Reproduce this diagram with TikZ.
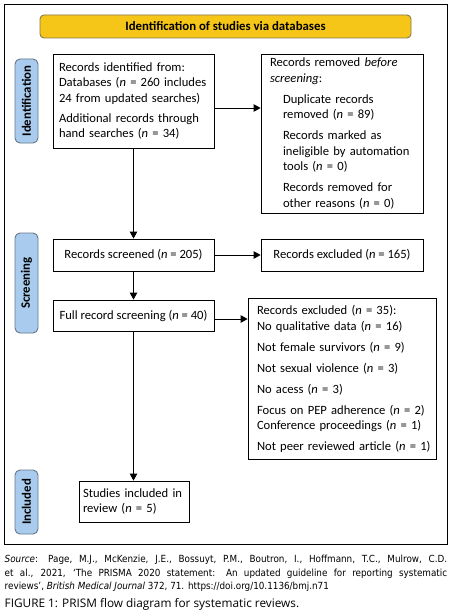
\documentclass[tikz,border=0pt]{standalone}
\usepackage{fontspec}
\setmainfont{Carlito}
\newfontfamily\srcfont{DejaVu Sans Condensed}
\newfontfamily\figfont{Open Sans}
\usetikzlibrary{arrows.meta,calc}
\definecolor{bannerfill}{HTML}{F5C518}
\definecolor{bannerline}{HTML}{857A50}
\definecolor{tabfill}{HTML}{A9CCEE}
\definecolor{tabline}{HTML}{66788A}
\newcommand{\nn}{\textit{n}}
\begin{document}
\begin{tikzpicture}[x=1pt,y=-1pt,
  box/.style={draw, line width=0.8pt, inner ysep=0pt, align=left,
    font=\fontsize{12.6}{15.5}\selectfont},
  tabbox/.style={draw=tabline, fill=tabfill, line width=0.9pt, rounded corners=5pt,
    minimum height=23, inner sep=0pt, rotate=90,
    font=\bfseries\fontsize{12.8}{14}\selectfont},
  arr/.style={line width=0.8pt, -{Triangle[length=7pt,width=7.5pt]}}]
\useasboundingbox (0,0) rectangle (453,615);
\fill[white] (0,0) rectangle (453,615);
% outer frame
\node[draw, line width=0.8pt, minimum width=442.5, minimum height=540, inner sep=0pt] (frame) at (225.75,274) {};
% banner
\node[draw=bannerline, fill=bannerfill, line width=0.9pt, rounded corners=4pt,
  minimum width=371, minimum height=23, inner sep=0pt,
  font=\bfseries\fontsize{12.8}{14}\selectfont] (banner) at (225.5,26.5) {Identification of studies via databases};
% tabs
\node[tabbox, minimum width=84] (tid) at (26.5,101) {Identification};
\node[tabbox, minimum width=100] (tsc) at (26.5,283) {Screening};
\node[tabbox, minimum width=64] (tin) at (26.5,502) {Included};
% boxes
\node[box, minimum width=161, minimum height=94, inner xsep=6pt, text width=149] (b1) at (133.5,101)
  {Records identified from:\\
   Databases (\nn{} = 260 includes\\
   24 from updated searches)\\[4.5pt]
   Additional records through\\
   hand searches (\nn{} = 34)};
\node[box, minimum width=162, minimum height=159, inner xsep=9pt, text width=144] (b2) at (342,133.5)
  {Records removed \textit{before}\\
   \textit{screening}:\\[5.5pt]
   \hspace*{13pt}Duplicate records\\
   \hspace*{13pt}removed (\nn{} = 89)\\[5.5pt]
   \hspace*{13pt}Records marked as\\
   \hspace*{13pt}\mbox{ineligible by automation}\\
   \hspace*{13pt}tools (\nn{} = 0)\\[5.5pt]
   \hspace*{13pt}Records removed for\\
   \hspace*{13pt}other reasons (\nn{} = 0)};
\node[box, align=center, minimum width=161, minimum height=32, inner xsep=4pt] (b3) at (133.5,255)
  {Records screened (\nn{} = 205)};
\node[box, align=center, minimum width=162, minimum height=32, inner xsep=4pt] (b4) at (342,255)
  {Records excluded (\nn{} = 165)};
\node[box, align=center, minimum width=161, minimum height=31, inner xsep=4pt] (b5) at (133.5,315.5)
  {Full record screening (\nn{} = 40)};
\node[box, minimum width=188, minimum height=161, inner xsep=9pt, text width=170] (b6) at (342,379)
  {Records excluded (\nn{} = 35):\\
   No qualitative data (\nn{} = 16)\\[5.5pt]
   Not female survivors (\nn{} = 9)\\[5.5pt]
   Not sexual violence (\nn{} = 3)\\[5.5pt]
   No acess (\nn{} = 3)\\[5.5pt]
   \mbox{Focus on PEP adherence (\nn{} = 2)}\\
   \mbox{Conference proceedings (\nn{} = 1)}\\[5.5pt]
   \mbox{Not peer reviewed article (\nn{} = 1)}};
\node[box, minimum width=110, minimum height=41, inner xsep=4pt, text width=102] (b7) at (134,501.5)
  {Studies included in\\
   review (\nn{} = 5)};
% connectors
\coordinate (c1) at ($(b1.east)+(0,7)$);
\coordinate (c5) at ($(b5.east)+(0,3.5)$);
\draw[arr] (c1) -- (c1 -| b2.west);
\draw[arr] (b1.south) -- (b3.north);
\draw[arr] (b3.east) -- (b4.west);
\draw[arr] (b3.south) -- (b5.north);
\draw[arr] (c5) -- (c5 -| b6.west);
\draw[arr] (b5.south) -- (b5.south |- b7.north);
% caption
\node[anchor=north west, inner sep=0pt, align=justify, text width=442.5,
  font=\srcfont\fontsize{9.8}{13.6}\selectfont] (src) at (4.5,555)
  {\textit{Source}: Page, M.J., McKenzie, J.E., Bossuyt, P.M., Boutron, I., Hoffmann, T.C., Mulrow, C.D.\linebreak
   et al., 2021, ‘The PRISMA 2020 statement: An updated guideline for reporting systematic\linebreak
   reviews’, \textit{British Medical Journal} 372, 71. https://doi.org/10.1136/bmj.n71};
\node[anchor=base west, inner sep=0pt, font=\figfont\fontsize{11.8}{13}\selectfont] (fig) at (4.5,607.5)
  {FIGURE 1: PRISM flow diagram for systematic reviews.};
\end{tikzpicture}
\end{document}
